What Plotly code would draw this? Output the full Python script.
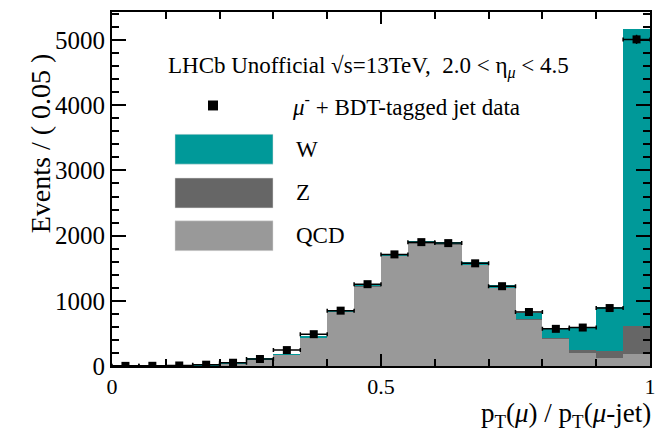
import numpy as np
import plotly.graph_objects as go

# Histogram binning: pT(mu)/pT(mu-jet), 20 bins of width 0.05
bin_centers = [0.025 + 0.05 * i for i in range(20)]
bin_width = 0.05

# Stacked template yields per bin
qcd = [2, 3, 5, 15, 35, 100, 170, 440, 840, 1220, 1695, 1885, 1870, 1550, 1200, 715, 420, 200, 130, 190]
zjets = [0, 0, 0, 0, 0, 0, 1, 2, 2, 2, 2, 2, 2, 3, 3, 4, 5, 45, 100, 425]
wjets = [0, 1, 1, 3, 5, 15, 10, 15, 20, 35, 20, 20, 25, 35, 40, 100, 165, 355, 670, 4550]

# Observed data
data = [2, 3, 8, 20, 50, 107, 244, 488, 849, 1255, 1712, 1900, 1885, 1575, 1224, 828, 570, 590, 889, 5010]
data_err = [float(np.sqrt(v)) for v in data]

TEAL = "#009999"
DARK = "#666666"
LIGHT = "#999999"
FONT = "Liberation Serif"

fig = go.Figure()
for name, vals, col in [("QCD", qcd, LIGHT), ("Z", zjets, DARK), ("W", wjets, TEAL)]:
    fig.add_trace(go.Bar(
        x=bin_centers, y=vals, width=bin_width, name=name,
        marker=dict(color=col, line=dict(width=0)), showlegend=False,
    ))

fig.add_trace(go.Scatter(
    x=bin_centers, y=data, mode="markers", showlegend=False,
    marker=dict(symbol="square", size=8, color="black"),
    error_x=dict(type="constant", value=bin_width / 2, color="black", thickness=1.5, width=2),
    error_y=dict(type="data", array=data_err, color="black", thickness=1.5, width=0),
))

fig.update_layout(
    barmode="stack", bargap=0,
    width=672, height=432,
    margin=dict(l=112, r=22, t=10, b=66),
    paper_bgcolor="white", plot_bgcolor="white",
    font=dict(family=FONT, size=24, color="black"),
)

fig.update_xaxes(
    range=[0, 1], tickvals=[0, 0.5, 1], ticktext=["0", "0.5", "1"],
    ticks="inside", ticklen=12, tickwidth=1.5, tickcolor="black",
    minor=dict(dtick=0.1, ticks="inside", ticklen=7, tickcolor="black", tickwidth=1.5),
    showline=True, linecolor="black", linewidth=2, mirror="ticks",
    showgrid=False, zeroline=False, tickfont=dict(size=22),
)
fig.update_yaxes(
    range=[0, 5430], tickvals=[0, 1000, 2000, 3000, 4000, 5000],
    ticks="inside", ticklen=14, tickwidth=1.5, tickcolor="black",
    minor=dict(dtick=200, ticks="inside", ticklen=7, tickcolor="black", tickwidth=1.5),
    showline=True, linecolor="black", linewidth=2, mirror="ticks",
    showgrid=False, zeroline=False, tickfont=dict(size=25),
)

def px(x):
    return (x - 112) / 538.0

def py(y):
    return (366 - y) / 356.0

# Axis titles
fig.add_annotation(xref="paper", yref="paper", x=px(653), y=py(415), xanchor="right", yanchor="middle",
                   text="p<sub>T</sub>(<i>μ</i>) / p<sub>T</sub>(<i>μ</i>-jet)", showarrow=False,
                   font=dict(size=27, family=FONT))
fig.add_annotation(xref="paper", yref="paper", x=px(40), y=py(142), xanchor="center", yanchor="middle",
                   text="Events / ( 0.05 )", textangle=-90, showarrow=False,
                   font=dict(size=28, family=FONT))

# Header and legend
fig.add_annotation(xref="paper", yref="paper", x=px(166), y=py(66), xanchor="left", yanchor="middle",
                   text="LHCb Unofficial √s=13TeV,  2.0 < η<sub><i>μ</i></sub> < 4.5", showarrow=False,
                   font=dict(size=23, family=FONT))
fig.add_shape(type="rect", xref="paper", yref="paper",
              x0=px(208), x1=px(218), y0=py(109), y1=py(99), fillcolor="black", line=dict(width=0))
fig.add_annotation(xref="paper", yref="paper", x=px(290), y=py(104), xanchor="left", yanchor="middle",
                   text="<i>μ</i><sup>-</sup> + BDT-tagged jet data", showarrow=False,
                   font=dict(size=23, family=FONT))
for label, col, yc in [("W", TEAL, 148), ("Z", DARK, 192), ("QCD", LIGHT, 235)]:
    fig.add_shape(type="rect", xref="paper", yref="paper",
                  x0=px(175), x1=px(273), y0=py(yc + 15), y1=py(yc - 15),
                  fillcolor=col, line=dict(width=0.5, color="#dddddd"))
    fig.add_annotation(xref="paper", yref="paper", x=px(294), y=py(yc), xanchor="left", yanchor="middle",
                       text=label, showarrow=False, font=dict(size=23, family=FONT))

fig.write_html("out.html")
